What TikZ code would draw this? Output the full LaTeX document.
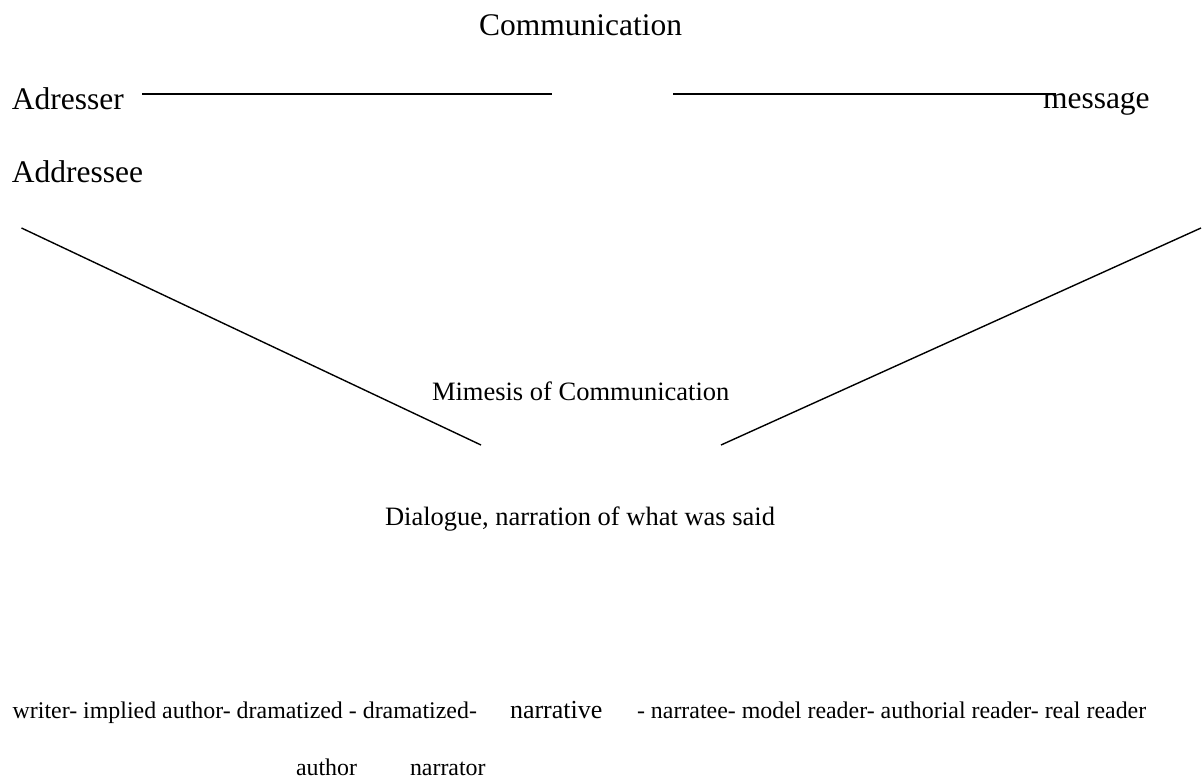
\documentclass[tikz,border=0pt]{standalone}
\usepackage{fontspec}
\setmainfont{Liberation Serif}
\tikzset{
  lbl/.style={inner sep=0pt, outer sep=0pt, anchor=base west},
  big/.style={lbl, font=\fontsize{31.5}{36}\selectfont},
  mid/.style={lbl, font=\fontsize{26.5}{30}\selectfont},
  small/.style={lbl, font=\fontsize{23.9}{28}\selectfont},
  rule/.style={draw=black, line width=1.6pt},
  vline/.style={draw=black, line width=1.4pt}
}
\begin{document}
\begin{tikzpicture}[x=1pt,y=-1pt]
\useasboundingbox (0,0) rectangle (1202,778);
% top
\node[big, anchor=base] (comm) at (580.5,36) {Communication};
\node[big] (adresser) at (12,110) {Adresser};
\node[big] (message) at (1043,109) {message};
\node[big] (addressee) at (12,183) {Addressee};
\coordinate (l1a) at (142,94);
\coordinate (l1b) at (552,94);
\coordinate (l2a) at (673,94);
\coordinate (l2b) at (1056,94);
\draw[rule] (l1a) -- (l1b);
\draw[rule] (l2a) -- (l2b);
% V lines
\coordinate (va) at (21.5,228);
\coordinate (vb) at (481,445);
\coordinate (vc) at (1201,228);
\coordinate (vd) at (721,445);
\draw[vline] (va) -- (vb);
\draw[vline] (vc) -- (vd);
\node[mid] (mimesis) at (432,400) {Mimesis of Communication};
\node[mid] (dialogue) at (385,525) {Dialogue, narration of what was said};
% bottom
\node[small] (chainL) at (12.7,718) {writer- implied author- dramatized - dramatized-};
\node[lbl, font=\fontsize{26}{30}\selectfont] (narrative) at (510,718) {narrative};
\node[small] (chainR) at (637,718) {- narratee- model reader- authorial reader- real reader};
\node[small] (author) at (296,775) {author};
\node[small] (narrator) at (410,775) {narrator};
\end{tikzpicture}
\end{document}
